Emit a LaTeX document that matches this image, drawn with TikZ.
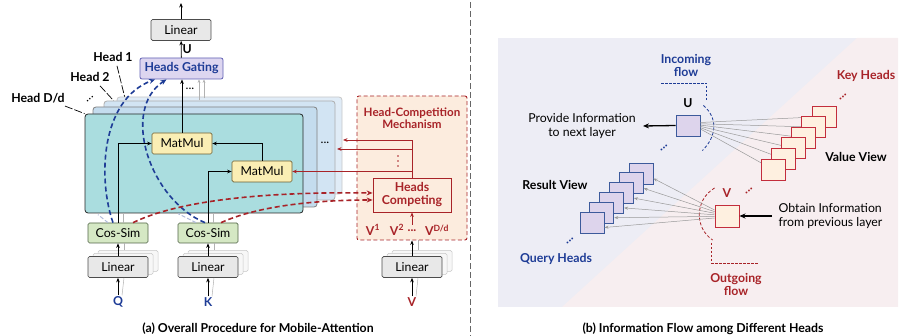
\documentclass[tikz,border=0pt]{standalone}
\usepackage{fontspec}
\setmainfont{Lato}
\usetikzlibrary{arrows.meta,calc}
\definecolor{tealp}{RGB}{170,221,223}
\definecolor{bluep1}{RGB}{196,220,238}
\definecolor{bluep2}{RGB}{210,228,243}
\definecolor{bluep3}{RGB}{224,236,247}
\definecolor{lingray}{RGB}{232,232,232}
\definecolor{cosgreen}{RGB}{213,232,196}
\definecolor{cosborder}{RGB}{80,100,70}
\definecolor{mmyellow}{RGB}{250,238,180}
\definecolor{mmborder}{RGB}{110,95,50}
\definecolor{gatepurple}{RGB}{221,214,240}
\definecolor{gateborder}{RGB}{96,96,180}
\definecolor{dblue}{RGB}{30,60,150}
\definecolor{dred}{RGB}{168,35,40}
\definecolor{peach}{RGB}{252,236,222}
\definecolor{bglav}{RGB}{237,237,245}
\definecolor{bgpink}{RGB}{247,238,240}
\definecolor{keyfill}{RGB}{254,240,224}
\definecolor{keyborder}{RGB}{195,45,60}
\definecolor{qfill}{RGB}{221,212,236}
\definecolor{qborder}{RGB}{60,90,155}
\begin{document}
\begin{tikzpicture}[x=1pt,y=-1pt,
 base/.style={font=\fontsize{12.3}{14}\selectfont},
 lbl/.style={font=\fontsize{12.3}{14}\selectfont\bfseries, inner sep=1pt},
 lin/.style={base, draw=black!70, fill=lingray, rounded corners=1.5pt, minimum width=60pt, minimum height=21pt, inner sep=0pt, line width=0.7pt},
 ghostbox/.style={draw=black!22, fill=black!3, rounded corners=1.5pt, minimum width=60pt, minimum height=21pt, inner sep=0pt, line width=0.5pt},
 cos/.style={lin, fill=cosgreen, draw=cosborder, minimum height=20pt},
 mm/.style={lin, fill=mmyellow, draw=mmborder},
 gate/.style={lbl, text=dblue, draw=gateborder, fill=gatepurple, rounded corners=2pt, minimum width=83pt, minimum height=21pt, inner sep=0pt, line width=0.8pt},
 pan/.style={rounded corners=3pt, line width=0.8pt, inner sep=0pt},
 arr/.style={-{Stealth[length=4.5pt,width=3.6pt]}, line width=0.8pt, black},
 garr/.style={-{Stealth[length=3.5pt,width=2.8pt]}, line width=0.5pt, black!30},
 redarr/.style={-{Stealth[length=4.5pt,width=3.6pt]}, line width=0.8pt, dred},
 bdash/.style={-{Stealth[length=6pt,width=5pt]}, line width=1.6pt, dblue, dash pattern=on 5pt off 3pt},
 rdash/.style={-{Stealth[length=6pt,width=5pt]}, line width=1.6pt, dred, dash pattern=on 5pt off 3pt},
 lead/.style={line width=0.7pt, black, dash pattern=on 8pt off 2pt},
 keyh/.style={draw=keyborder, fill=keyfill, minimum width=24pt, minimum height=21pt, inner sep=0pt, line width=0.9pt},
 qh/.style={draw=qborder, fill=qfill, minimum width=24pt, minimum height=21pt, inner sep=0pt, line width=0.9pt},
 thickarr/.style={-{Stealth[length=6pt,width=5pt]}, line width=1.3pt, black},
 fan/.style={line width=0.5pt, black!40},
 fanarr/.style={-{Stealth[length=4pt,width=3pt]}, line width=0.5pt, black!40},
]
\useasboundingbox (0,0) rectangle (904,336);

% ---------- separator ----------
\coordinate (sepT) at (470,2);
\coordinate (sepB) at (470,336);
\draw[black!60, dash pattern=on 6pt off 3pt, line width=0.8pt] (sepT) -- (sepB);

% ================= PANEL (a) =================
\node[lin] (lintop) at (181,30) {Linear};
\coordinate (outtop) at (181,3);
\draw[arr] (lintop) -- (outtop);
\node[gate] (gate) at (181.5,68.5) {Heads Gating};
\draw[arr] (gate) -- (lintop) node[midway, right, lbl] {U};

% stacked heads
\node[pan, fill=bluep3, draw=black!22, minimum width=225pt, minimum height=97pt] (p4) at (229.5,145.5) {};
\node[pan, fill=bluep2, draw=black!32, minimum width=231pt, minimum height=99pt] (p3) at (219.5,150.5) {};
\node[pan, fill=bluep1, draw=black!50, minimum width=224pt, minimum height=100pt] (p2) at (205,157) {};
\node[pan, fill=tealp, draw=black!85, minimum width=218pt, minimum height=99pt] (p1) at (194,163.5) {};
\node[base] (pdots) at (325,143) {...};

% ghost outputs towards gating
\draw[garr] ($(gate.south)+(17.5,21)$) -- ($(gate.south)+(17.5,0)$);
\draw[garr] ($(gate.south)+(22.5,19)$) -- ($(gate.south)+(22.5,0)$);
\node[base] (gdots) at (190,89) {...};

% head labels
\node[lbl] (h1) at (113,57) {Head 1};
\node[lbl] (h2) at (90,77) {Head 2};
\node[lbl] (hd) at (38,98) {Head D/d};
\draw[lead] ($(h1.south)+(4,3)$) -- ($(p4.north west)+(8,0)$);
\draw[lead] ($(h2.south)+(10,3)$) -- ($(p3.north west)+(10,0)$);
\draw[lead] ($(hd.south)+(27,2)$) -- (p1.north west);
\node[base, rotate=35] (hdots) at (90,99) {...};

% MatMul
\node[mm] (mm1) at (182,143.5) {MatMul};
\node[mm] (mm2) at (262,171.5) {MatMul};

% bottom inputs
\node[ghostbox] (lqg2) at (128,261) {};
\node[ghostbox] (lqg1) at (123,264) {};
\node[ghostbox] (lkg2) at (218,261) {};
\node[ghostbox] (lkg1) at (213,264) {};
\node[ghostbox] (lvg2) at (422,261) {};
\node[ghostbox] (lvg1) at (417,264) {};
\node[lin] (lq) at (118,267) {Linear};
\node[lin] (lk) at (208,267) {Linear};
\node[lin] (lv) at (412,267) {Linear};
\node[cos] (cs1) at (118,233) {Cos-Sim};
\node[cos] (cs2) at (208,233) {Cos-Sim};
\node[lbl, text=dblue] (q) at (118,302) {Q};
\node[lbl, text=dblue] (k) at (208,302) {K};
\node[lbl, text=dred] (v) at (412,302) {V};

% ghost lines
\draw[black!30, line width=0.5pt] ($(q.north)+(4,0)$) -- ($(lq.south)+(6,0)$);
\draw[black!30, line width=0.5pt] ($(k.north)+(4,0)$) -- ($(lk.south)+(6,0)$);
\draw[black!30, line width=0.5pt] ($(v.north)+(4,0)$) -- ($(lv.south)+(6,0)$);
\draw[black!30, line width=0.5pt] ($(lq.north)+(6,-6)$) -- ($(cs1.south)+(6,0)$);
\draw[black!30, line width=0.5pt] ($(lk.north)+(6,-6)$) -- ($(cs2.south)+(6,0)$);
\draw[black!30, line width=0.5pt] ($(lv.north)+(6,-6)$) -- ($(lv.north)+(6,-17)$);
\draw[black!30, line width=0.5pt] ($(cs1.north)+(5,0)$) -- ($(p1.south)+(-71,0)$);
\draw[black!30, line width=0.5pt] ($(cs2.north)+(5,0)$) -- ($(p1.south)+(19,0)$);
\draw[dblue!35, line width=1pt, dash pattern=on 4pt off 2pt] ($(cs1.north)+(-10,0)$) -- ($(cs1.north)+(-20,-8)$);
\draw[dblue!35, line width=1pt, dash pattern=on 4pt off 2pt] ($(cs2.north)+(-12,0)$) -- ($(cs2.north)+(-30,-9)$);

\draw[arr] (q) -- (lq);
\draw[arr] (k) -- (lk);
\draw[arr] (v) -- (lv);
\draw[arr] (lq) -- (cs1);
\draw[arr] (lk) -- (cs2);
\draw[arr] (cs1.north) |- (mm1.west);
\draw[arr] (cs2.north) |- (mm2.west);
\draw[arr] (mm2.north) |- (mm1.east);
\draw[arr] (mm1.north) -- (mm1.north |- gate.south);

% head competition mechanism
\node[draw=dred, dash pattern=on 4pt off 2.5pt, line width=0.9pt, fill=peach, rounded corners=2pt, minimum width=110pt, minimum height=144pt] (hcm) at (412,168) {};
\node[lbl, text=dred, align=center, font=\fontsize{11.6}{13}\selectfont\bfseries] (hct) at (412,118) {Head-Competition\\[-1pt]Mechanism};
\node[lbl, text=dred, align=center, draw=dred, fill=peach, line width=0.8pt, minimum width=78pt, minimum height=34pt, inner sep=0pt] (hc) at (412,195) {Heads\\[-1pt]Competing};
\coordinate (hcd) at (398,161);
\foreach \dd in {-5,0,5} { \fill[dred] ($(hcd)+(0,\dd)$) circle (0.8pt); }
\coordinate (r1) at (343,140);
\coordinate (r2) at (337,149);
\draw[redarr] (hc.north) |- (r1);
\draw[redarr] (hc.north) |- (r2);
\draw[redarr] (hc.north) |- (mm2.east);
\node[lbl, text=dred] (v1) at (373,230) {V\textsuperscript{1}};
\node[lbl, text=dred] (v2) at (397,230) {V\textsuperscript{2}};
\node[lbl, text=dred] (vd) at (412,231) {...};
\node[lbl, text=dred] (vD) at (437,230) {V\textsuperscript{D/d}};
\coordinate (vin) at (412,225);
\draw[redarr] (vin) -- (hc.south);
\draw[arr] (lv) -- (hcm.south);

% dashed flows
\draw[bdash] ($(cs1.north)+(-5,0)$) .. controls (98,180) and (100,100) .. ($(gate.south)+(-26.5,0)$);
\draw[bdash] ($(cs2.north)+(-3,0)$) .. controls (150,200) and (120,110) .. ($(gate.south)+(-15,0)$);
\draw[rdash] ($(cs1.north)+(15,0)$) .. controls (190,195) and (300,192) .. ($(hc.west)+(0,-2)$);
\draw[rdash] ($(cs2.north)+(13,0)$) .. controls (260,205) and (320,200) .. ($(hc.west)+(0,5)$);

\node[lbl] (capa) at (258,329) {(a) Overall Procedure for Mobile-Attention};

% ================= PANEL (b) =================
\fill[bglav] (498,38) rectangle (898,307);
\fill[bgpink] (562,307) -- (857,38) -- (898,38) -- (898,307) -- cycle;

\node[qh] (ubox) at (688,125.5) {};
\node[lbl] (ulbl) at (688,103) {U};
\coordinate (pend) at (643,126);
\draw[thickarr] (ubox.west) -- (pend);
\node[base, align=center] (prov) at (582,126) {Provide Information\\to next layer};
\node[lbl, text=dblue, align=center] (inc) at (686,65) {Incoming\\[-1pt]flow};
\coordinate (ia) at (661,83);
\coordinate (ib) at (706,83);
\coordinate (ic) at (706,101);
\draw[dblue, line width=0.8pt, dash pattern=on 2.5pt off 1.5pt] (ia) -- (ib) -- (ic);
\draw[dblue, line width=0.8pt, dash pattern=on 3pt off 2pt] ($(ubox.east)+(3,-20)$) .. controls ($(ubox.east)+(17,-8)$) and ($(ubox.east)+(17,10)$) .. ($(ubox.east)+(2,25)$);
\node[lbl, text=dblue, rotate=35] (udots) at (664,148) {...};

% key heads
\foreach \i in {0,...,5} {
  \coordinate (kc\i) at ({824-10.2*\i},{116.5+10.6*\i});
  \draw[fan] ($(ubox.east)+(0,{-3+1.3*\i})$) -- (kc\i);
}
\foreach \i in {0,...,5} {
  \node[keyh] (k\i) at (kc\i) {};
}
\node[lbl, text=dred, rotate=35] (kdots) at (843,97) {...};
\node[lbl, text=dred] (keyl) at (866,76) {Key Heads};
\node[lbl] (valv) at (856,157) {Value View};

% value box
\node[keyh, minimum height=22pt] (vbox) at (727,216) {};
\node[lbl, text=dred] (vlbl) at (727,193) {V};
\node[lbl, text=dred, rotate=35] (vdots) at (749,191) {...};
\coordinate (oend) at (772,216);
\draw[thickarr] (oend) -- (vbox.east);
\node[base, align=left, anchor=west] (obt) at (775,216) {Obtain Information\\from previous layer};
\draw[dred, line width=0.8pt, dash pattern=on 3pt off 2pt] ($(vbox.west)+(0,-28)$) .. controls ($(vbox.west)+(-20,-16)$) and ($(vbox.west)+(-20,12)$) .. ($(vbox.west)+(-2,24)$);
\coordinate (oa) at (711,243);
\coordinate (ob) at (711,263);
\coordinate (oc) at (758,263);
\draw[dred, line width=0.8pt, dash pattern=on 2.5pt off 1.5pt] (oa) -- (ob) -- (oc);
\node[lbl, text=dred, align=center] (outg) at (736,284) {Outgoing\\[-1pt]flow};

% query heads
\foreach \i in {0,...,5} {
  \node[qh] (qq\i) at ({641-9.8*\i},{173.5+9.8*\i}) {};
}
\foreach \i in {0,...,5} {
  \draw[fanarr] ($(vbox.west)+(0,{-6+1.6*\i})$) -- ($(qq\i.east)+(0,5)$);
}
\node[lbl, text=dblue, rotate=35] (qdots) at (570,241) {...};
\node[lbl] (resv) at (555,185) {Result View};
\node[lbl, text=dblue] (qhl) at (556,259) {Query Heads};

\node[lbl] (capb) at (703,329) {(b) Information Flow among Different Heads};
\end{tikzpicture}
\end{document}
